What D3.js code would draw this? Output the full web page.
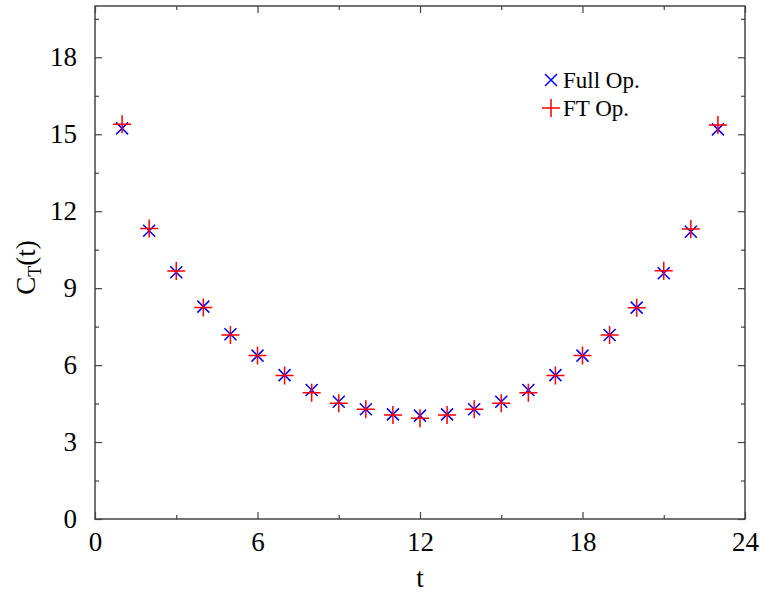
<!DOCTYPE html>
<html>
<head>
<meta charset="utf-8">
<script src="https://cdn.jsdelivr.net/npm/d3@7"></script>
<style>
  body { margin: 0; background: #fff; }
  svg, svg text { font-family: "Liberation Serif", "Times New Roman", Times, "DejaVu Serif", serif !important; }
</style>
</head>
<body>
<svg id="chart" width="760" height="592"></svg>
<script>
document.addEventListener("DOMContentLoaded", function() {

    // Data
    const tValues = [1, 2, 3, 4, 5, 6, 7, 8, 9, 10, 11, 12, 13, 14, 15, 16, 17, 18, 19, 20, 21, 22, 23];
    const fullOp = [15.23, 11.24, 9.62, 8.28, 7.20, 6.37, 5.61, 5.03, 4.57, 4.28, 4.08, 4.03,
                    4.08, 4.28, 4.57, 5.03, 5.61, 6.37, 7.17, 8.24, 9.58, 11.20, 15.19];
    const ftOp = [15.39, 11.33, 9.67, 8.25, 7.17, 6.37, 5.59, 4.92, 4.51, 4.28, 4.05, 3.93,
                  4.05, 4.28, 4.51, 4.92, 5.59, 6.37, 7.17, 8.24, 9.68, 11.31, 15.36];
    const xTicks = [0, 6, 12, 18, 24];
    const xMinor = [3, 9, 15, 21];
    const yTicks = [0, 3, 6, 9, 12, 15, 18];
    const yMinor = [1.5, 4.5, 7.5, 10.5, 13.5, 16.5, 19.5];
    const seriesNames = ["Full Op.", "FT Op."];

    // Layout
    const left = 95, right = 745, top = 6, bottom = 519;
    const axisColor = "#444";

    const x = d3.scaleLinear().domain([0, 24]).range([left, right]);
    const y = d3.scaleLinear().domain([0, 20]).range([bottom, top]);

    const svg = d3.select("#chart");

    // strip domain, style tick lines and labels
    function styleAxis(g) {
        g.attr("font-family", null);
        g.select(".domain").remove();
        g.selectAll("line").attr("stroke", axisColor).attr("stroke-width", 1.2);
        g.selectAll("text")
            .attr("fill", "#000")
            .style("font-size", "27px");
    }

    ////////// Axes //////////

    // bottom (labels) and top (mirror ticks)
    svg.append("g")
        .attr("transform", `translate(0,${bottom})`)
        .call(d3.axisBottom(x).tickValues(xTicks).tickSize(-7).tickPadding(13).tickFormat(d3.format("d")))
        .call(styleAxis);

    svg.append("g")
        .attr("transform", `translate(0,${bottom})`)
        .call(d3.axisBottom(x).tickValues(xMinor).tickSize(-4).tickFormat(""))
        .call(styleAxis);

    svg.append("g")
        .attr("transform", `translate(0,${top})`)
        .call(d3.axisTop(x).tickValues(xTicks).tickSize(-7).tickFormat(""))
        .call(styleAxis);

    svg.append("g")
        .attr("transform", `translate(0,${top})`)
        .call(d3.axisTop(x).tickValues(xMinor).tickSize(-4).tickFormat(""))
        .call(styleAxis);

    // left (labels) and right (mirror ticks)
    svg.append("g")
        .attr("transform", `translate(${left},0)`)
        .call(d3.axisLeft(y).tickValues(yTicks).tickSize(-7).tickPadding(18).tickFormat(d3.format("d")))
        .call(styleAxis);

    svg.append("g")
        .attr("transform", `translate(${left},0)`)
        .call(d3.axisLeft(y).tickValues(yMinor).tickSize(-4).tickFormat(""))
        .call(styleAxis);

    svg.append("g")
        .attr("transform", `translate(${right},0)`)
        .call(d3.axisRight(y).tickValues(yTicks).tickSize(-7).tickFormat(""))
        .call(styleAxis);

    svg.append("g")
        .attr("transform", `translate(${right},0)`)
        .call(d3.axisRight(y).tickValues(yMinor).tickSize(-4).tickFormat(""))
        .call(styleAxis);

    // frame
    svg.append("rect")
        .attr("x", left).attr("y", top)
        .attr("width", right - left).attr("height", bottom - top)
        .attr("fill", "none")
        .attr("stroke", axisColor)
        .attr("stroke-width", 1.5);

    // Axis titles
    svg.append("text")
        .attr("x", (left + right) / 2)
        .attr("y", 587)
        .attr("text-anchor", "middle")
        .style("font-size", "27px")
        .text("t");

    const yLabel = svg.append("text")
        .attr("transform", `translate(35,${(top + bottom) / 2 + 5}) rotate(-90)`)
        .attr("text-anchor", "middle")
        .style("font-size", "27px");
    yLabel.append("tspan").text("C");
    yLabel.append("tspan").attr("dy", 6).style("font-size", "18px").text("T");
    yLabel.append("tspan").attr("dy", -6).text("(t)");

    ////////// Points //////////

    const fullData = tValues.map((t, i) => ({t: t, v: fullOp[i]}));
    const ftData = tValues.map((t, i) => ({t: t, v: ftOp[i]}));

    const crossPath = s => `M${-s},${-s}L${s},${s}M${-s},${s}L${s},${-s}`;
    const plusPath = s => `M${-s},0L${s},0M0,${-s}L0,${s}`;

    svg.append("g").selectAll("path")
        .data(fullData)
        .join("path")
        .attr("transform", d => `translate(${x(d.t)},${y(d.v)})`)
        .attr("d", crossPath(6))
        .attr("stroke", "#0000ff")
        .attr("stroke-width", 1.5)
        .attr("fill", "none");

    svg.append("g").selectAll("path")
        .data(ftData)
        .join("path")
        .attr("transform", d => `translate(${x(d.t)},${y(d.v)})`)
        .attr("d", plusPath(9))
        .attr("stroke", "#ff0000")
        .attr("stroke-width", 1.5)
        .attr("fill", "none");

    ////////// Legend //////////

    const legend = svg.append("g");
    const legendMarks = [crossPath(6), plusPath(9)];
    const legendColors = ["#0000ff", "#ff0000"];
    seriesNames.forEach((name, i) => {
        const ly = 80 + i * 28;
        legend.append("path")
            .attr("transform", `translate(551,${ly})`)
            .attr("d", legendMarks[i])
            .attr("stroke", legendColors[i])
            .attr("stroke-width", 1.5)
            .attr("fill", "none");
        legend.append("text")
            .attr("x", 563)
            .attr("y", ly + 8)
            .style("font-size", "23px")
            .text(name);
    });

});
</script>
</body>
</html>
